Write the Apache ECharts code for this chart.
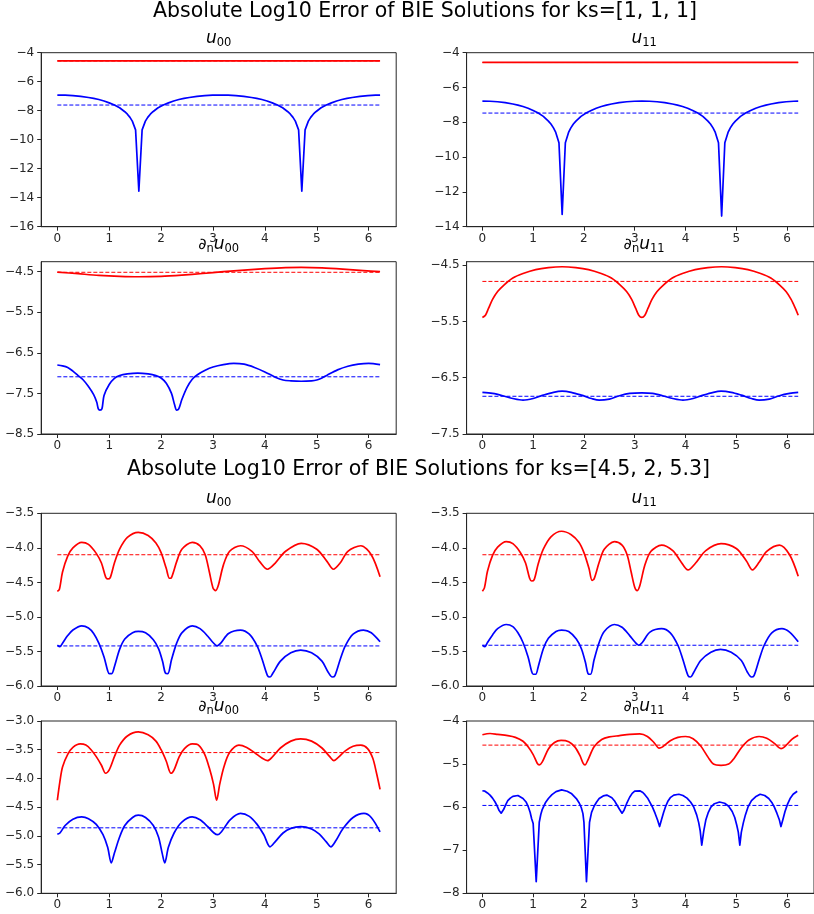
<!DOCTYPE html>
<html>
<head>
<meta charset="utf-8">
<script src="https://cdn.jsdelivr.net/npm/echarts@6/dist/echarts.min.js"></script>
<style>
html,body{margin:0;padding:0;background:#fff;}
#chart{width:814px;height:914px;}
</style>
</head>
<body>
<div id="chart"></div>
<script>
// ---------------- DATA ----------------
const xTickVals = [0, 1, 2, 3, 4, 5, 6];

const supTitles = [
  'Absolute Log10 Error of BIE Solutions for ks=[1, 1, 1]',
  'Absolute Log10 Error of BIE Solutions for ks=[4.5, 2, 5.3]'
];

// ks = [1, 1, 1] : u00
const p1Red = [[0,-4.57],[1,-4.57],[2,-4.57],[3,-4.57],[4,-4.57],[5,-4.57],[6.22,-4.57]];
const p1Blue = [[0,-6.92],[0.15,-6.93],[0.3,-6.96],[0.45,-7.01],[0.6,-7.09],[0.7,-7.15],[0.8,-7.23],[0.9,-7.33],[1.0,-7.46],[1.1,-7.61],[1.2,-7.80],[1.3,-8.07],[1.35,-8.24],[1.4,-8.46],[1.445,-8.72],[1.508,-9.32],[1.571,-13.55],
  [1.634,-9.32],[1.697,-8.72],[1.742,-8.46],[1.792,-8.24],[1.842,-8.07],[1.942,-7.80],[2.042,-7.61],[2.142,-7.46],[2.242,-7.33],[2.342,-7.23],[2.442,-7.15],[2.542,-7.09],[2.692,-7.01],[2.842,-6.96],[2.992,-6.93],[3.142,-6.92],
  [3.292,-6.93],[3.442,-6.96],[3.592,-7.01],[3.742,-7.09],[3.842,-7.15],[3.942,-7.23],[4.042,-7.33],[4.142,-7.46],[4.242,-7.61],[4.342,-7.80],[4.442,-8.07],[4.492,-8.24],[4.542,-8.46],[4.587,-8.72],[4.650,-9.32],[4.712,-13.55],
  [4.775,-9.32],[4.838,-8.72],[4.883,-8.46],[4.933,-8.24],[4.983,-8.07],[5.083,-7.80],[5.183,-7.61],[5.283,-7.46],[5.383,-7.33],[5.483,-7.23],[5.583,-7.15],[5.683,-7.09],[5.833,-7.01],[5.983,-6.96],[6.133,-6.93],[6.22,-6.92]];
const p1Means = [-4.57, -7.61];
const p1YTicks = [-16, -14, -12, -10, -8, -6, -4];

// ks = [1, 1, 1] : u11
const p2Red = [[0,-4.56],[1,-4.56],[2,-4.56],[3,-4.56],[4,-4.56],[5,-4.56],[6.22,-4.56]];
const p2Blue = [[0,-6.78],[0.15,-6.79],[0.3,-6.82],[0.45,-6.87],[0.6,-6.95],[0.7,-7.01],[0.8,-7.09],[0.9,-7.19],[1.0,-7.32],[1.1,-7.47],[1.2,-7.66],[1.3,-7.93],[1.35,-8.10],[1.4,-8.32],[1.445,-8.58],[1.508,-9.18],[1.571,-13.29],
  [1.634,-9.18],[1.697,-8.58],[1.742,-8.32],[1.792,-8.10],[1.842,-7.93],[1.942,-7.66],[2.042,-7.47],[2.142,-7.32],[2.242,-7.19],[2.342,-7.09],[2.442,-7.01],[2.542,-6.95],[2.692,-6.87],[2.842,-6.82],[2.992,-6.79],[3.142,-6.78],
  [3.292,-6.79],[3.442,-6.82],[3.592,-6.87],[3.742,-6.95],[3.842,-7.01],[3.942,-7.09],[4.042,-7.19],[4.142,-7.32],[4.242,-7.47],[4.342,-7.66],[4.442,-7.93],[4.492,-8.10],[4.542,-8.32],[4.587,-8.58],[4.650,-9.18],[4.712,-13.39],
  [4.775,-9.18],[4.838,-8.58],[4.883,-8.32],[4.933,-8.10],[4.983,-7.93],[5.083,-7.66],[5.183,-7.47],[5.283,-7.32],[5.383,-7.19],[5.483,-7.09],[5.583,-7.01],[5.683,-6.95],[5.833,-6.87],[5.983,-6.82],[6.133,-6.79],[6.22,-6.78]];
const p2Means = [-4.565, -7.47];
const p2YTicks = [-14, -12, -10, -8, -6, -4];

// ks = [1, 1, 1] : dn u00
const p3Red = [[0,-4.51],[0.4,-4.55],[0.8,-4.59],[1.2,-4.615],[1.57,-4.625],[2.0,-4.615],[2.4,-4.585],[2.8,-4.545],[3.2,-4.50],[3.6,-4.46],[4.0,-4.425],[4.4,-4.40],[4.7,-4.395],[5.1,-4.405],[5.5,-4.435],[5.9,-4.475],[6.22,-4.50]];
const p3Blue = [[0,-6.80],[0.1,-6.82],[0.2,-6.86],[0.3,-6.95],[0.4,-7.06],[0.5,-7.17],[0.6,-7.33],[0.7,-7.53],[0.76,-7.72],[0.79,-7.88],[0.82,-7.91],[0.86,-7.88],[0.9,-7.55],[1.0,-7.28],[1.1,-7.13],[1.2,-7.06],[1.35,-7.02],[1.55,-7.00],[1.75,-7.02],[1.9,-7.06],[2.0,-7.12],[2.1,-7.25],[2.2,-7.50],[2.26,-7.78],[2.3,-7.91],[2.34,-7.88],[2.4,-7.65],[2.5,-7.35],[2.6,-7.15],[2.7,-7.04],[2.85,-6.93],[3.0,-6.85],[3.2,-6.79],[3.4,-6.76],[3.6,-6.78],[3.8,-6.86],[4.0,-6.97],[4.2,-7.10],[4.35,-7.17],[4.5,-7.19],[4.7,-7.20],[4.9,-7.19],[5.0,-7.17],[5.1,-7.12],[5.2,-7.05],[5.4,-6.92],[5.6,-6.83],[5.8,-6.78],[6.0,-6.76],[6.22,-6.79]];
const p3Means = [-4.515, -7.09];
const p3YTicks = [-8.5, -7.5, -6.5, -5.5, -4.5];

// ks = [1, 1, 1] : dn u11
const p4Red = [[0,-5.43],[0.06,-5.39],[0.12,-5.27],[0.2,-5.11],[0.3,-4.97],[0.43,-4.85],[0.6,-4.73],[0.8,-4.65],[1.05,-4.58],[1.3,-4.545],[1.57,-4.53],[1.84,-4.545],[2.09,-4.58],[2.34,-4.65],[2.54,-4.73],[2.71,-4.85],[2.84,-4.97],[2.94,-5.11],[3.02,-5.27],[3.08,-5.39],[3.14,-5.43],[3.2,-5.39],[3.26,-5.27],[3.34,-5.11],[3.44,-4.97],[3.57,-4.85],[3.74,-4.73],[3.94,-4.65],[4.19,-4.58],[4.44,-4.545],[4.71,-4.53],[4.98,-4.545],[5.23,-4.58],[5.48,-4.65],[5.68,-4.73],[5.85,-4.85],[5.98,-4.97],[6.08,-5.11],[6.16,-5.26],[6.22,-5.39]];
const p4Blue = [[0,-6.76],[0.2,-6.78],[0.4,-6.82],[0.6,-6.87],[0.8,-6.90],[1.0,-6.87],[1.2,-6.81],[1.4,-6.76],[1.57,-6.74],[1.75,-6.76],[1.95,-6.81],[2.15,-6.87],[2.3,-6.90],[2.5,-6.88],[2.7,-6.82],[2.9,-6.78],[3.14,-6.77],[3.35,-6.78],[3.55,-6.82],[3.75,-6.87],[3.95,-6.90],[4.15,-6.87],[4.35,-6.81],[4.55,-6.76],[4.7,-6.74],[4.9,-6.76],[5.1,-6.81],[5.3,-6.87],[5.45,-6.90],[5.65,-6.88],[5.85,-6.82],[6.05,-6.78],[6.22,-6.76]];
const p4Means = [-4.79, -6.83];
const p4YTicks = [-7.5, -6.5, -5.5, -4.5];

// ks = [4.5, 2, 5.3] : u00
const p5Red = [[0,-4.63],[0.04,-4.60],[0.1,-4.35],[0.2,-4.12],[0.3,-4.00],[0.47,-3.92],[0.6,-3.95],[0.75,-4.08],[0.85,-4.22],[0.93,-4.42],[0.97,-4.45],[1.02,-4.43],[1.1,-4.22],[1.2,-4.02],[1.35,-3.85],[1.56,-3.775],[1.75,-3.82],[1.9,-3.93],[2.0,-4.07],[2.1,-4.30],[2.16,-4.44],[2.2,-4.43],[2.3,-4.20],[2.4,-4.02],[2.6,-3.92],[2.75,-3.97],[2.85,-4.10],[2.93,-4.35],[3.0,-4.58],[3.05,-4.62],[3.1,-4.55],[3.2,-4.25],[3.32,-4.05],[3.53,-3.97],[3.75,-4.05],[3.9,-4.20],[4.05,-4.31],[4.2,-4.22],[4.4,-4.05],[4.7,-3.935],[5.0,-4.02],[5.2,-4.20],[5.32,-4.31],[5.45,-4.22],[5.6,-4.05],[5.85,-3.97],[6.05,-4.10],[6.22,-4.42]];
const p5Blue = [[0,-5.41],[0.05,-5.43],[0.1,-5.38],[0.2,-5.27],[0.3,-5.19],[0.47,-5.13],[0.6,-5.16],[0.7,-5.24],[0.8,-5.38],[0.9,-5.58],[0.97,-5.78],[1.0,-5.82],[1.05,-5.82],[1.1,-5.72],[1.2,-5.47],[1.3,-5.32],[1.45,-5.23],[1.56,-5.21],[1.7,-5.23],[1.85,-5.33],[1.95,-5.46],[2.03,-5.65],[2.08,-5.81],[2.13,-5.82],[2.2,-5.62],[2.3,-5.38],[2.4,-5.23],[2.6,-5.13],[2.75,-5.17],[2.9,-5.28],[3.0,-5.37],[3.08,-5.42],[3.15,-5.38],[3.3,-5.24],[3.53,-5.19],[3.7,-5.25],[3.85,-5.42],[3.95,-5.62],[4.05,-5.85],[4.1,-5.87],[4.15,-5.82],[4.3,-5.64],[4.5,-5.52],[4.69,-5.48],[4.9,-5.52],[5.1,-5.64],[5.22,-5.80],[5.3,-5.87],[5.35,-5.85],[5.45,-5.62],[5.55,-5.42],[5.7,-5.25],[5.9,-5.19],[6.05,-5.23],[6.22,-5.36]];
const p5Means = [-4.10, -5.42];
const p5YTicks = [-6.0, -5.5, -5.0, -4.5, -4.0, -3.5];

// ks = [4.5, 2, 5.3] : u11
const p6Red = [[0,-4.63],[0.04,-4.58],[0.1,-4.34],[0.2,-4.11],[0.3,-3.99],[0.47,-3.91],[0.6,-3.94],[0.75,-4.07],[0.85,-4.22],[0.93,-4.44],[0.97,-4.48],[1.02,-4.46],[1.1,-4.23],[1.2,-4.02],[1.35,-3.84],[1.56,-3.76],[1.75,-3.81],[1.9,-3.92],[2.0,-4.07],[2.1,-4.30],[2.16,-4.47],[2.2,-4.45],[2.3,-4.21],[2.4,-4.02],[2.6,-3.91],[2.75,-3.96],[2.85,-4.10],[2.93,-4.35],[3.0,-4.57],[3.05,-4.62],[3.1,-4.55],[3.2,-4.25],[3.32,-4.05],[3.53,-3.96],[3.75,-4.04],[3.9,-4.19],[4.05,-4.32],[4.2,-4.22],[4.4,-4.04],[4.7,-3.94],[5.0,-4.01],[5.2,-4.19],[5.32,-4.32],[5.45,-4.21],[5.6,-4.05],[5.85,-3.96],[6.05,-4.10],[6.22,-4.41]];
const p6Blue = [[0,-5.41],[0.05,-5.43],[0.1,-5.37],[0.2,-5.26],[0.3,-5.17],[0.47,-5.11],[0.6,-5.14],[0.7,-5.23],[0.8,-5.37],[0.9,-5.58],[0.97,-5.79],[1.0,-5.83],[1.05,-5.83],[1.1,-5.72],[1.2,-5.46],[1.3,-5.31],[1.45,-5.21],[1.56,-5.19],[1.7,-5.21],[1.85,-5.32],[1.95,-5.46],[2.03,-5.66],[2.08,-5.82],[2.13,-5.83],[2.2,-5.62],[2.3,-5.37],[2.4,-5.21],[2.6,-5.11],[2.75,-5.15],[2.9,-5.27],[3.0,-5.36],[3.08,-5.41],[3.15,-5.37],[3.3,-5.22],[3.53,-5.17],[3.7,-5.23],[3.85,-5.41],[3.95,-5.62],[4.05,-5.85],[4.1,-5.87],[4.15,-5.82],[4.3,-5.63],[4.5,-5.51],[4.69,-5.47],[4.9,-5.51],[5.1,-5.63],[5.22,-5.80],[5.3,-5.87],[5.35,-5.85],[5.45,-5.62],[5.55,-5.41],[5.7,-5.23],[5.9,-5.17],[6.05,-5.22],[6.22,-5.36]];
const p6Means = [-4.10, -5.41];
const p6YTicks = [-6.0, -5.5, -5.0, -4.5, -4.0, -3.5];

// ks = [4.5, 2, 5.3] : dn u00
const p7Red = [[0,-4.38],[0.05,-4.05],[0.1,-3.80],[0.2,-3.58],[0.3,-3.46],[0.44,-3.40],[0.55,-3.42],[0.65,-3.50],[0.75,-3.62],[0.85,-3.77],[0.93,-3.91],[1.0,-3.85],[1.1,-3.62],[1.2,-3.42],[1.35,-3.26],[1.56,-3.19],[1.75,-3.24],[1.9,-3.35],[2.0,-3.50],[2.1,-3.70],[2.19,-3.91],[2.25,-3.85],[2.35,-3.62],[2.45,-3.48],[2.6,-3.40],[2.72,-3.42],[2.84,-3.58],[2.93,-3.82],[3.01,-4.10],[3.07,-4.38],[3.13,-4.10],[3.21,-3.80],[3.32,-3.55],[3.5,-3.42],[3.65,-3.46],[3.8,-3.55],[3.95,-3.65],[4.05,-3.69],[4.15,-3.62],[4.3,-3.47],[4.5,-3.35],[4.69,-3.31],[4.9,-3.35],[5.1,-3.47],[5.25,-3.62],[5.33,-3.69],[5.42,-3.63],[5.55,-3.52],[5.7,-3.44],[5.85,-3.42],[5.98,-3.48],[6.08,-3.65],[6.15,-3.90],[6.22,-4.19]];
const p7Blue = [[0,-4.97],[0.05,-4.95],[0.15,-4.82],[0.3,-4.71],[0.47,-4.67],[0.6,-4.70],[0.75,-4.80],[0.88,-4.98],[0.97,-5.20],[1.04,-5.47],[1.1,-5.30],[1.2,-5.02],[1.3,-4.82],[1.45,-4.68],[1.56,-4.64],[1.7,-4.68],[1.85,-4.82],[1.95,-5.02],[2.02,-5.30],[2.07,-5.47],[2.14,-5.20],[2.25,-4.95],[2.4,-4.76],[2.6,-4.67],[2.75,-4.72],[2.9,-4.84],[3.02,-4.95],[3.09,-4.98],[3.17,-4.92],[3.33,-4.72],[3.53,-4.61],[3.7,-4.66],[3.85,-4.80],[3.98,-4.98],[4.1,-5.19],[4.2,-5.10],[4.35,-4.95],[4.5,-4.87],[4.69,-4.84],[4.9,-4.88],[5.05,-4.97],[5.18,-5.10],[5.27,-5.19],[5.37,-5.08],[5.5,-4.88],[5.7,-4.68],[5.91,-4.61],[6.05,-4.68],[6.22,-4.93]];
const p7Means = [-3.55, -4.86];
const p7YTicks = [-6.0, -5.5, -5.0, -4.5, -4.0, -3.5, -3.0];

// ks = [4.5, 2, 5.3] : dn u11
const p8Red = [[0,-4.32],[0.15,-4.29],[0.3,-4.31],[0.5,-4.34],[0.65,-4.38],[0.8,-4.47],[0.9,-4.60],[1.0,-4.78],[1.08,-4.98],[1.12,-5.02],[1.18,-4.95],[1.3,-4.65],[1.42,-4.50],[1.55,-4.45],[1.7,-4.48],[1.82,-4.60],[1.92,-4.80],[1.98,-4.97],[2.02,-5.02],[2.08,-4.90],[2.2,-4.60],[2.35,-4.43],[2.5,-4.37],[2.7,-4.34],[2.9,-4.31],[3.1,-4.30],[3.25,-4.36],[3.38,-4.50],[3.48,-4.63],[3.55,-4.60],[3.7,-4.46],[3.85,-4.38],[4.0,-4.36],[4.15,-4.41],[4.3,-4.58],[4.45,-4.85],[4.55,-5.00],[4.7,-5.03],[4.85,-5.00],[4.95,-4.88],[5.1,-4.62],[5.25,-4.44],[5.45,-4.36],[5.6,-4.40],[5.75,-4.52],[5.88,-4.64],[5.95,-4.60],[6.1,-4.42],[6.22,-4.33]];
const p8Blue = [[0,-5.62],[0.05,-5.63],[0.1,-5.67],[0.15,-5.72],[0.2,-5.79],[0.25,-5.88],[0.29,-5.97],[0.33,-6.08],[0.37,-6.14],[0.42,-6.05],[0.46,-5.94],[0.5,-5.85],[0.55,-5.79],[0.6,-5.75],[0.7,-5.73],[0.8,-5.80],[0.86,-5.88],[0.9,-5.98],[0.94,-6.12],[0.97,-6.27],[1.0,-6.38],[1.06,-7.73],[1.12,-6.35],[1.15,-6.17],[1.18,-6.05],[1.24,-5.90],[1.3,-5.80],[1.37,-5.71],[1.45,-5.64],[1.56,-5.60],[1.67,-5.63],[1.76,-5.69],[1.85,-5.80],[1.91,-5.91],[1.95,-6.02],[1.98,-6.15],[2.0,-6.35],[2.05,-7.73],[2.11,-6.35],[2.15,-6.12],[2.2,-5.98],[2.25,-5.88],[2.3,-5.80],[2.38,-5.74],[2.45,-5.72],[2.55,-5.78],[2.6,-5.85],[2.65,-5.95],[2.7,-6.05],[2.75,-6.14],[2.79,-6.07],[2.84,-5.92],[2.9,-5.77],[2.95,-5.68],[3.0,-5.63],[3.1,-5.62],[3.16,-5.66],[3.2,-5.71],[3.26,-5.80],[3.3,-5.89],[3.35,-6.00],[3.4,-6.14],[3.45,-6.30],[3.49,-6.45],[3.53,-6.28],[3.57,-6.12],[3.61,-5.98],[3.65,-5.87],[3.7,-5.78],[3.77,-5.72],[3.87,-5.70],[3.95,-5.73],[4.03,-5.79],[4.1,-5.88],[4.16,-5.99],[4.22,-6.18],[4.26,-6.36],[4.29,-6.55],[4.32,-6.88],[4.36,-6.55],[4.4,-6.30],[4.45,-6.12],[4.5,-6.00],[4.57,-5.92],[4.67,-5.88],[4.77,-5.91],[4.85,-5.98],[4.92,-6.10],[4.97,-6.24],[5.01,-6.42],[5.04,-6.58],[5.07,-6.88],[5.1,-6.58],[5.14,-6.36],[5.18,-6.18],[5.23,-6.00],[5.3,-5.85],[5.38,-5.76],[5.47,-5.70],[5.56,-5.73],[5.64,-5.80],[5.7,-5.89],[5.75,-6.00],[5.8,-6.14],[5.85,-6.30],[5.88,-6.45],[5.92,-6.28],[5.96,-6.10],[6.01,-5.93],[6.06,-5.80],[6.12,-5.70],[6.2,-5.63]];
const p8Means = [-4.56, -5.96];
const p8YTicks = [-8, -7, -6, -5, -4];

// ---------------- LAYOUT / STYLE ----------------
const FONT = 'DejaVu Sans';
const X_MIN = -0.311, X_MAX = 6.531;
const colLeft = [41.2, 466.6];
const colW = 355;
const rowTop = [52.7, 261.7, 513.3, 721];
const rowH = [174, 172.3, 172.7, 172.3];

const panels = [
  {row:0,col:0,red:p1Red,blue:p1Blue,means:p1Means,ticks:p1YTicks,min:-16,max:-4,dec:0,title:'{u|u}{s|00}',smoothBlue:false},
  {row:0,col:1,red:p2Red,blue:p2Blue,means:p2Means,ticks:p2YTicks,min:-14,max:-4,dec:0,title:'{u|u}{s|11}',smoothBlue:false},
  {row:1,col:0,red:p3Red,blue:p3Blue,means:p3Means,ticks:p3YTicks,min:-8.5,max:-4.254,dec:1,title:'{d|∂}{s|n}{u|u}{s|00}',smoothBlue:true},
  {row:1,col:1,red:p4Red,blue:p4Blue,means:p4Means,ticks:p4YTicks,min:-7.5,max:-4.44,dec:1,title:'{d|∂}{s|n}{u|u}{s|11}',smoothBlue:true},
  {row:2,col:0,red:p5Red,blue:p5Blue,means:p5Means,ticks:p5YTicks,min:-6.0,max:-3.5,dec:1,title:'{u|u}{s|00}',smoothBlue:true},
  {row:2,col:1,red:p6Red,blue:p6Blue,means:p6Means,ticks:p6YTicks,min:-6.0,max:-3.5,dec:1,title:'{u|u}{s|11}',smoothBlue:true},
  {row:3,col:0,red:p7Red,blue:p7Blue,means:p7Means,ticks:p7YTicks,min:-6.0,max:-3.0,dec:1,title:'{d|∂}{s|n}{u|u}{s|00}',smoothBlue:true},
  {row:3,col:1,red:p8Red,blue:p8Blue,means:p8Means,ticks:p8YTicks,min:-8,max:-4,dec:0,title:'{d|∂}{s|n}{u|u}{s|11}',smoothBlue:false}
];

const fmt = (v, dec) => (dec ? v.toFixed(dec) : String(Math.round(v))).replace('-', '\u2212');

const grids = [], xAxes = [], yAxes = [], series = [], graphics = [];
const axisColor = '#262626';
panels.forEach((p, i) => {
  const left = colLeft[p.col], top = rowTop[p.row];
  grids.push({left: left, top: top, width: colW, height: rowH[p.row], show: true,
    borderColor: axisColor, borderWidth: 1, backgroundColor: 'transparent', containLabel: false});
  xAxes.push({type: 'value', gridIndex: i, min: X_MIN, max: X_MAX,
    axisLine: {show: true, onZero: false, lineStyle: {color: axisColor, width: 1}},
    axisTick: {show: true, length: 4, customValues: xTickVals, lineStyle: {color: axisColor}},
    axisLabel: {show: true, customValues: xTickVals, margin: 6, color: axisColor, fontFamily: FONT, fontSize: 12,
      formatter: v => fmt(v, 0)},
    splitLine: {show: false}});
  yAxes.push({type: 'value', gridIndex: i, min: p.min, max: p.max,
    axisLine: {show: true, onZero: false, lineStyle: {color: axisColor, width: 1}},
    axisTick: {show: true, length: 4, customValues: p.ticks, lineStyle: {color: axisColor}},
    axisLabel: {show: true, customValues: p.ticks, margin: 7, color: axisColor, fontFamily: FONT, fontSize: 12,
      formatter: v => fmt(v, p.dec)},
    splitLine: {show: false}});
  const xEnd = p.red[p.red.length - 1][0];
  const mk = (data, color, width, dashed, z, smooth) => ({
    type: 'line', xAxisIndex: i, yAxisIndex: i, data: data, showSymbol: false, symbol: 'none',
    silent: true, animation: false, z: z, smooth: smooth ? 0.3 : false,
    lineStyle: {color: color, width: width, type: dashed ? [4, 2] : 'solid', cap: 'butt', join: 'round'}
  });
  series.push(mk(p.red, '#ff0000', 1.7, false, 2, true));
  series.push(mk([[0, p.means[0]], [xEnd, p.means[0]]], '#ff0000', 1, true, 3, false));
  series.push(mk(p.blue, '#0000ff', 1.7, false, 4, p.smoothBlue));
  series.push(mk([[0, p.means[1]], [xEnd, p.means[1]]], '#0000ff', 1, true, 5, false));

  const titleY = [49, 255, 509, 717][p.row];
  graphics.push({type: 'text', x: left + colW / 2, y: titleY, silent: true,
    style: {text: p.title, align: 'center', verticalAlign: 'bottom', fill: '#000',
      rich: {
        u: {fontFamily: FONT, fontSize: 17, fontStyle: 'italic', fill: '#000', lineHeight: 17, padding: [0, 0, 2, 0], verticalAlign: 'bottom'},
        d: {fontFamily: FONT, fontSize: 16, fill: '#000', lineHeight: 17, padding: [0, 0, 2, 0], verticalAlign: 'bottom'},
        s: {fontFamily: FONT, fontSize: 11.5, fill: '#000', lineHeight: 12, verticalAlign: 'bottom'}
      }}});
});

graphics.push({type: 'text', x: 425, y: 12, silent: true,
  style: {text: supTitles[0], align: 'center', verticalAlign: 'middle', fill: '#000', fontFamily: FONT, fontSize: 20.5}});
graphics.push({type: 'text', x: 418.5, y: 470, silent: true,
  style: {text: supTitles[1], align: 'center', verticalAlign: 'middle', fill: '#000', fontFamily: FONT, fontSize: 20.5}});

const chart = echarts.init(document.getElementById('chart'), null, {renderer: 'canvas'});
chart.setOption({
  animation: false,
  backgroundColor: '#ffffff',
  grid: grids,
  xAxis: xAxes,
  yAxis: yAxes,
  series: series,
  graphic: graphics
});
</script>
</body>
</html>
